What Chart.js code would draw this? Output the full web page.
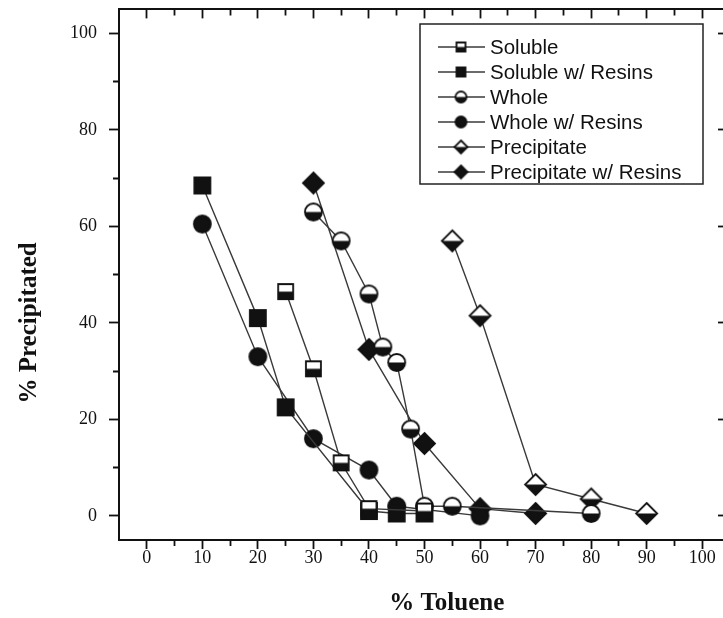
<!DOCTYPE html>
<html>
<head>
<meta charset="utf-8">
<script src="https://cdn.jsdelivr.net/npm/chart.js@4/dist/chart.umd.min.js"></script>
<style>
  html, body { margin: 0; padding: 0; background: #fff; overflow: hidden; }
</style>
</head>
<body>
<canvas id="chart" width="750" height="618"></canvas>
<script>
// Precipitation curves vs. toluene fraction

const seriesNames = ['Soluble', 'Soluble w/ Resins', 'Whole', 'Whole w/ Resins', 'Precipitate', 'Precipitate w/ Resins'];

const solubleX = [25, 30, 35, 40, 50];
const solubleY = [46.5, 30.5, 11, 1.5, 1];
const solubleResinX = [10, 20, 25, 40, 45, 50];
const solubleResinY = [68.5, 41, 22.5, 1, 0.5, 0.5];
const wholeX = [30, 35, 40, 42.5, 45, 47.5, 50, 55, 80];
const wholeY = [63, 57, 46, 35, 31.8, 18, 2, 2, 0.5];
const wholeResinX = [10, 20, 30, 40, 45, 60];
const wholeResinY = [60.5, 33, 16, 9.5, 2, 0];
const precipX = [55, 60, 70, 80, 90];
const precipY = [57, 41.5, 6.5, 3.5, 0.5];
const precipResinX = [30, 40, 50, 60, 70];
const precipResinY = [69, 34.5, 15, 1.5, 0.5];

// labelled ticks; the unlabelled ones in between are minor
const xTickLabels = [0, 10, 20, 30, 40, 50, 60, 70, 80, 90, 100];
const yTickLabels = [0, 20, 40, 60, 80, 100];
const xTickValues = [0, 5, 10, 15, 20, 25, 30, 35, 40, 45, 50, 55, 60, 65, 70, 75, 80, 85, 90, 95, 100];
const yTickValues = [0, 10, 20, 30, 40, 50, 60, 70, 80, 90, 100];

const INK = '#111';
const LINE = '#3a3a3a';
const SERIF = '"Liberation Serif", "Times New Roman", serif';

// marker sprites: shape + whether only the lower half is filled
function marker(shape, half, size) {
  const pad = 2;
  const c = document.createElement('canvas');
  c.width = c.height = Math.ceil(size + pad * 2);
  const g = c.getContext('2d');
  const m = c.width / 2, r = size / 2;
  const path = () => {
    g.beginPath();
    if (shape === 'square') g.rect(m - r, m - r, size, size);
    else if (shape === 'circle') g.arc(m, m, r, 0, Math.PI * 2);
    else { g.moveTo(m, m - r); g.lineTo(m + r, m); g.lineTo(m, m + r); g.lineTo(m - r, m); g.closePath(); }
  };
  path();
  g.fillStyle = half ? '#fff' : INK;
  g.fill();
  if (half) {
    g.save(); path(); g.clip();
    g.fillStyle = INK; g.fillRect(0, m, c.width, c.height);
    g.restore();
  }
  path();
  g.lineWidth = 1.8; g.strokeStyle = INK; g.stroke();
  return c;
}

const markerDefs = [
  ['square', true, 15, 9],
  ['square', false, 16, 9],
  ['circle', true, 17, 11],
  ['circle', false, 17, 11],
  ['diamond', true, 21, 13],
  ['diamond', false, 21, 13]
];
const plotMarkers = markerDefs.map(d => marker(d[0], d[1], d[2]));
const legendMarkers = markerDefs.map(d => marker(d[0], d[1], d[3]));

const xs = [solubleX, solubleResinX, wholeX, wholeResinX, precipX, precipResinX];
const ys = [solubleY, solubleResinY, wholeY, wholeResinY, precipY, precipResinY];

const datasets = seriesNames.map((name, i) => ({
  label: name,
  data: xs[i].map((x, k) => ({ x: x, y: ys[i][k] })),
  showLine: true,
  borderColor: LINE,
  borderWidth: 1.4,
  pointStyle: plotMarkers[i],
  pointRadius: 8,
  fill: false,
  tension: 0
}));

const setTicks = values => s => { s.ticks = values.map(v => ({ value: v })); };
// fixed axis thickness, and no extra room reserved for edge labels
const fixSize = (prop, px) => s => {
  s[prop] = px;
  s.paddingTop = s.paddingBottom = s.paddingLeft = s.paddingRight = 0;
};

const legendBox = {
  id: 'legendBox',
  afterDatasetsDraw(chart) {
    const ctx = chart.ctx;
    const left = 420, top = 24, w = 283, h = 160;
    ctx.save();
    ctx.fillStyle = '#fff';
    ctx.fillRect(left, top, w, h);
    ctx.lineWidth = 1.5;
    ctx.strokeStyle = '#222';
    ctx.strokeRect(left, top, w, h);
    ctx.font = '20.5px "Liberation Sans", Arial, sans-serif';
    ctx.textBaseline = 'middle';
    chart.data.datasets.forEach((ds, i) => {
      const y = top + 23 + i * 25;
      ctx.beginPath();
      ctx.moveTo(left + 18, y);
      ctx.lineTo(left + 65, y);
      ctx.lineWidth = 1.6;
      ctx.strokeStyle = LINE;
      ctx.stroke();
      const img = legendMarkers[i];
      ctx.drawImage(img, left + 41 - img.width / 2, y - img.height / 2);
      ctx.fillStyle = INK;
      ctx.fillText(ds.label, left + 70, y + 1);
    });
    ctx.restore();
  }
};

const axisTitles = {
  id: 'axisTitles',
  afterDraw(chart) {
    const { ctx, scales } = chart;
    ctx.save();
    ctx.fillStyle = INK;
    ctx.font = 'bold 25px ' + SERIF;
    ctx.textAlign = 'center';
    ctx.textBaseline = 'middle';
    ctx.fillText('% Toluene', scales.x.getPixelForValue(54), 604);
    ctx.translate(30, scales.y.getPixelForValue(40));
    ctx.rotate(-Math.PI / 2);
    ctx.fillText('% Precipitated', 0, 0);
    ctx.restore();
  }
};

const frame = { display: true, width: 2, color: INK };

new Chart(document.getElementById('chart'), {
  type: 'scatter',
  data: { datasets: datasets },
  options: {
    responsive: false,
    animation: false,
    events: [],
    layout: { padding: { left: 0, top: 9, right: 20, bottom: 0 } },
    plugins: { legend: { display: false }, tooltip: { enabled: false } },
    scales: {
      x: {
        type: 'linear', position: 'bottom', min: -5, max: 105,
        afterBuildTicks: setTicks(xTickValues),
        afterFit: fixSize('height', 78),
        border: frame,
        grid: {
          drawOnChartArea: false, tickLength: 9, tickWidth: 1.8, tickColor: INK,
          tickBorderDash: c => (c.tick && c.tick.value % 10) ? [5, 100] : []
        },
        ticks: {
          autoSkip: false, maxRotation: 0, padding: -2, color: INK,
          font: { family: SERIF, size: 18 },
          callback: v => xTickLabels.includes(v) ? String(v) : ''
        }
      },
      x2: {
        type: 'linear', position: 'top', min: -5, max: 105,
        afterBuildTicks: setTicks(xTickValues),
        afterFit: fixSize('height', 0),
        border: frame,
        grid: {
          drawOnChartArea: false, tickLength: -9, tickWidth: 1.8, tickColor: INK,
          tickBorderDash: c => (c.tick && c.tick.value % 10) ? [0, 3, 6, 100] : []
        },
        ticks: { display: false }
      },
      y: {
        type: 'linear', position: 'left', min: -5, max: 105,
        afterBuildTicks: setTicks(yTickValues),
        afterFit: fixSize('width', 119),
        border: frame,
        grid: {
          drawOnChartArea: false, tickLength: 10, tickWidth: 1.8, tickColor: INK,
          tickBorderDash: c => (c.tick && c.tick.value % 20) ? [0, 4, 6, 100] : []
        },
        ticks: {
          autoSkip: false, padding: 12, color: INK,
          font: { family: SERIF, size: 18 },
          callback: v => yTickLabels.includes(v) ? String(v) : ''
        }
      },
      y2: {
        type: 'linear', position: 'right', min: -5, max: 105,
        afterBuildTicks: setTicks(yTickValues),
        afterFit: fixSize('width', 0),
        border: frame,
        grid: {
          drawOnChartArea: false, tickLength: -12, tickWidth: 1.8, tickColor: INK,
          tickBorderDash: c => (c.tick && c.tick.value % 20) ? [6, 100] : []
        },
        ticks: { display: false }
      }
    }
  },
  plugins: [legendBox, axisTitles]
});
</script>
</body>
</html>
